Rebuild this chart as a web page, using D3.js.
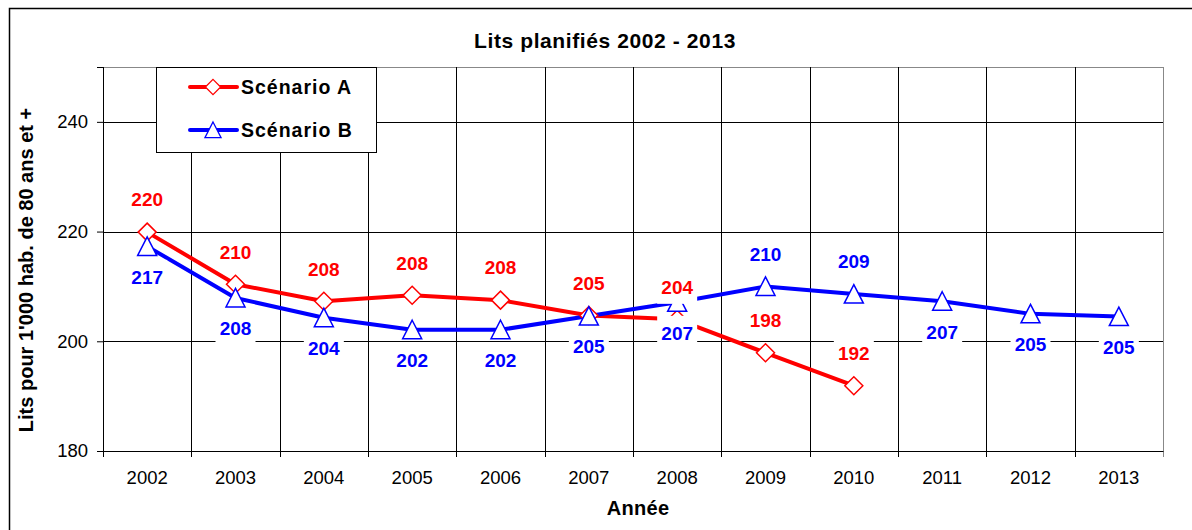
<!DOCTYPE html>
<html>
<head>
<meta charset="UTF-8">
<title>Lits planifiés 2002 - 2013</title>
<script src="https://d3js.org/d3.v7.min.js"></script>
<style>
  body { margin: 0; background: #fff; }
  text { font-family: "Liberation Sans", Arial, sans-serif; }
</style>
</head>
<body>
<div id="chart"></div>
<script>
// data
const years = ["2002","2003","2004","2005","2006","2007","2008","2009","2010","2011","2012","2013"];
const scenarioA = [219.9, 210.4, 207.3, 208.4, 207.5, 204.7, 204.0, 197.9, 191.9, null, null, null];
const scenarioB = [217.3, 207.9, 204.3, 202.1, 202.1, 204.6, 207.1, 210.0, 208.6, 207.3, 205.0, 204.5];
const labelsA = ["220","210","208","208","208","205","204","198","192"];
const labelsB = ["217","208","204","202","202","205","207","210","209","207","205","205"];
const labelSideB = ["below","below","below","below","below","below","below","above","above","below","below","below"];
const yTicks = [180, 200, 220, 240];

const W = 1192, H = 530;
const margin = { top: 67, right: 29, bottom: 79, left: 103 };
const width = W - margin.left - margin.right;
const height = H - margin.top - margin.bottom;

const svg = d3.select("#chart").append("svg")
  .attr("width", W).attr("height", H);

// outer chart border
svg.append("rect")
  .attr("x", 9.5).attr("y", 8.5)
  .attr("width", W + 20).attr("height", H + 20)
  .attr("fill", "none").attr("stroke", "#000").attr("stroke-width", 1.5);

const g = svg.append("g")
  .attr("transform", "translate(" + margin.left + "," + margin.top + ")");

const x = d3.scaleBand().domain(years).range([0, width]).padding(0);
const y = d3.scaleLinear().domain([180, 250]).range([height, 0]);

// plot border (light)
g.append("rect")
  .attr("x", 0.5).attr("y", 0.5)
  .attr("width", width).attr("height", height)
  .attr("fill", "none").attr("stroke", "#888");

// horizontal gridlines + y axis
const yAxis = g.append("g")
  .call(d3.axisLeft(y).tickValues(yTicks).tickSize(6).tickPadding(9));
yAxis.select(".domain").attr("stroke", "#000");
yAxis.selectAll("text").style("font-size", "18.5px").attr("fill", "#000");

g.append("g").selectAll("line")
  .data(yTicks.filter(d => d > 180))
  .join("line")
  .attr("x1", 0).attr("x2", width)
  .attr("y1", d => Math.round(y(d)) + 0.5).attr("y2", d => Math.round(y(d)) + 0.5)
  .attr("stroke", "#000").attr("stroke-width", 1);

// vertical gridlines between categories, with tick marks below the axis
const bounds = years.map(d => x(d)).concat([width]);
g.append("g").selectAll("line")
  .data(bounds)
  .join("line")
  .attr("x1", d => Math.round(d) + 0.5).attr("x2", d => Math.round(d) + 0.5)
  .attr("y1", 0).attr("y2", height + 6)
  .attr("stroke", (d, i) => i === bounds.length - 1 ? "#888" : "#000")
  .attr("stroke-width", 1);

// x axis
const xAxis = g.append("g")
  .attr("transform", "translate(0," + height + ")")
  .call(d3.axisBottom(x).tickSize(0).tickPadding(20));
xAxis.select(".domain").attr("stroke", "#000");
xAxis.selectAll("text").style("font-size", "18.5px").attr("fill", "#000");
g.append("line")
  .attr("x1", -6).attr("x2", width)
  .attr("y1", height + 0.5).attr("y2", height + 0.5)
  .attr("stroke", "#000");

// axis titles
svg.append("text")
  .attr("x", 638).attr("y", 515)
  .attr("text-anchor", "middle")
  .style("font-size", "20px").style("font-weight", "bold")
  .style("letter-spacing", "0.3px")
  .text("Année");

svg.append("text")
  .attr("transform", "translate(33,270) rotate(-90)")
  .attr("text-anchor", "middle")
  .style("font-size", "20px").style("font-weight", "bold")
  .text("Lits pour 1'000 hab. de 80 ans et +");

// title
svg.append("text")
  .attr("x", 605).attr("y", 48)
  .attr("text-anchor", "middle")
  .style("font-size", "21px").style("font-weight", "bold")
  .style("letter-spacing", "0.6px")
  .text("Lits planifiés 2002 - 2013");

const cx = d => x(d) + x.bandwidth() / 2;

const ptsA = years.map((d, i) => ({ year: d, v: scenarioA[i] })).filter(d => d.v !== null);
const ptsB = years.map((d, i) => ({ year: d, v: scenarioB[i] }));

const line = d3.line().x(d => cx(d.year)).y(d => y(d.v));

g.append("path").datum(ptsA)
  .attr("d", line).attr("fill", "none")
  .attr("stroke", "#ff0000").attr("stroke-width", 4).attr("stroke-linejoin", "round");
g.append("path").datum(ptsB)
  .attr("d", line).attr("fill", "none")
  .attr("stroke", "#0000ff").attr("stroke-width", 4).attr("stroke-linejoin", "round");

const diamond = "M0,-9L9,0L0,9L-9,0Z";
const triangle = "M0,-9.5L9.5,9L-9.5,9Z";

g.append("g").selectAll("path")
  .data(ptsA).join("path")
  .attr("d", diamond)
  .attr("transform", d => "translate(" + cx(d.year) + "," + y(d.v) + ")")
  .attr("fill", "#fff").attr("stroke", "#ff0000").attr("stroke-width", 1.5);

g.append("g").selectAll("path")
  .data(ptsB).join("path")
  .attr("d", triangle)
  .attr("transform", d => "translate(" + cx(d.year) + "," + y(d.v) + ")")
  .attr("fill", "#fff").attr("stroke", "#0000ff").attr("stroke-width", 1.5);

// data labels with white boxes
function addLabels(pts, labels, color, sideOf) {
  const lg = g.append("g").selectAll("g")
    .data(pts).join("g")
    .attr("transform", (d, i) => {
      const dy = sideOf(i) === "above" ? -32.5 : 30.5;
      return "translate(" + cx(d.year) + "," + (y(d.v) + dy) + ")";
    });
  lg.append("rect")
    .attr("x", -20).attr("y", -17).attr("width", 40).attr("height", 34)
    .attr("fill", "#fff");
  lg.append("text")
    .attr("text-anchor", "middle").attr("dy", "0.36em")
    .style("font-size", "19px").style("font-weight", "bold")
    .attr("fill", color)
    .text((d, i) => labels[i]);
}
addLabels(ptsA, labelsA, "#ff0000", () => "above");
addLabels(ptsB, labelsB, "#0000ff", i => labelSideB[i]);

// legend
const leg = svg.append("g");
leg.append("rect")
  .attr("x", 156.5).attr("y", 67.5).attr("width", 220).attr("height", 85)
  .attr("fill", "#fff").attr("stroke", "#000");
const legItems = [
  { name: "Scénario A", color: "#ff0000", shape: diamond, y: 87 },
  { name: "Scénario B", color: "#0000ff", shape: triangle, y: 130 }
];
legItems.forEach(it => {
  leg.append("line")
    .attr("x1", 190).attr("x2", 237).attr("y1", it.y).attr("y2", it.y)
    .attr("stroke", it.color).attr("stroke-width", 4).attr("stroke-linecap", "round");
  leg.append("path")
    .attr("d", it.shape)
    .attr("transform", "translate(213," + it.y + ") scale(0.85)")
    .attr("fill", "#fff").attr("stroke", it.color).attr("stroke-width", 1.5);
  leg.append("text")
    .attr("x", 241).attr("y", it.y).attr("dy", "0.36em")
    .style("font-size", "19.5px").style("font-weight", "bold")
    .style("letter-spacing", "1px")
    .text(it.name);
});
</script>
</body>
</html>
